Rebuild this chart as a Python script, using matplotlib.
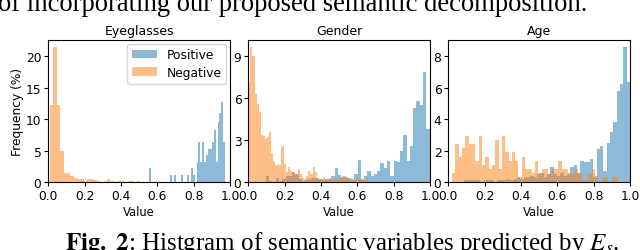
import numpy as np
import matplotlib
matplotlib.use("Agg")
import matplotlib.pyplot as plt

plt.rcParams["mathtext.fontset"] = "stix"

# histogram heights (%), one value per bin
# (bin start, bin width) for each series
eye_pos_bins = (0.553, 0.0105)
eye_pos = [2.2, 0, 0, 0, 0, 0, 0, 0, 0, 0, 0, 1.1, 0, 1.1, 0, 0, 0, 1.1, 0, 0,
           1.1, 0, 2.2, 1.1, 0, 3.2, 6.4, 3.2, 6.4, 3.2, 4.3, 5.3, 5.3, 6.4, 8.2, 3.2,
           9.5, 11.0, 12.7, 6.4]
eye_neg_bins = (0.01, 0.0184)
eye_neg = [12.3, 21.5, 12.2, 5.0, 1.4, 1.4, 1.0, 0.6, 0.4, 0.4, 0.2, 0.4, 0.4, 0.3,
           0.1, 0.0, 0.1, 0.4, 0.1, 0.0, 0.1, 0.1, 0.0, 0.1, 0.1, 0.0, 0.1]

gen_pos_bins = (0.097, 0.018)
gen_pos = [0.4, 0.1, 0.0, 0.3, 0.1, 0.2, 0.4, 0.4, 0.75, 0.55, 0.2, 0.1, 0.15, 0.2,
           0.25, 0.3, 0.2, 0.15, 0.2, 0.2, 0.45, 1.0, 0.5, 0.35, 0.35, 0.3, 0.2, 0.6,
           1.55, 0.2, 0.4, 0.8, 0.45, 0.6, 0.8, 1.35, 1.0, 1.5, 0.4, 1.5, 1.4, 2.2,
           3.4, 1.5, 2.6, 5.3, 5.8, 5.5, 7.9, 3.8]
gen_neg_bins = (0.0, 0.0114)
gen_neg = [7.1, 9.7, 9.0, 6.3, 5.6, 5.0, 3.4, 3.3, 3.1, 3.2, 3.6, 2.1, 1.5, 1.2, 1.2,
           1.2, 2.6, 1.3, 0.7, 1.05, 0.8, 0.7, 0.6, 0.6, 0.9, 0.6, 0.3, 0.2, 0.45, 0.8,
           0.6, 1.05, 0.7, 0.3, 0.15, 0.2, 0.3, 0.15, 0.2, 0.3, 0.15, 0.2, 0.3, 0.2,
           0.3, 0.45, 0.45, 0.3, 0.2, 0.1, 0.1, 0.15, 0.2, 0.3, 0.2, 0.15, 0.1, 0.3]

age_pos_bins = (0.085, 0.0183)
age_pos = [0.1, 0.1, 0.1, 0.1, 0.1, 0.0, 0.1, 0.1, 0.1, 0.0, 0.1, 0.1, 0.1, 0.2,
           0.1, 0.2, 0.3, 0.2, 0.3, 0.3, 0.4, 0.3, 0.5, 0.6, 0.3, 0.5, 0.95, 0.5,
           0.4, 0.55, 0.4, 0.5, 0.95, 1.05, 0.6, 1.35, 1.3, 1.3, 1.45, 0.3, 2.1, 2.3,
           0.7, 2.5, 3.2, 3.8, 5.8, 6.25, 8.6, 6.35]
age_neg_bins = (0.02, 0.0183)
age_neg = [0.55, 2.4, 1.6, 2.15, 2.9, 2.4, 2.4, 1.35, 2.9, 1.1, 1.6, 0.8, 1.1, 2.7,
           0.8, 2.9, 1.9, 1.35, 1.9, 1.35, 0.3, 1.6, 0.8, 0.8, 0.55, 1.35, 0.6, 0.8,
           0.8, 0.5, 0.8, 0.8, 1.35, 0.8, 0.8, 0.55, 0.55, 0.8, 0.55, 0.1, 0.1, 0.55,
           0.8, 0.4, 0.0, 0.3, 0.3, 0.0, 0.3, 0.3]

titles = ["Eyeglasses", "Gender", "Age"]
yticks = [[0, 5, 10, 15, 20], [0, 3, 6, 9], [0, 2, 4, 6, 8]]
xticks = [0.0, 0.2, 0.4, 0.6, 0.8, 1.0]
panels = [
    ((eye_pos_bins, eye_pos), (eye_neg_bins, eye_neg)),
    ((gen_pos_bins, gen_pos), (gen_neg_bins, gen_neg)),
    ((age_pos_bins, age_pos), (age_neg_bins, age_neg)),
]

FS = 8.8

fig = plt.figure(figsize=(6.4, 2.51), dpi=100)
lefts = [0.0755, 0.388, 0.7005]


def draw_hist(ax, bins, heights, color, label):
    start, width = bins
    edges = start + width * np.arange(len(heights) + 1)
    centers = (edges[:-1] + edges[1:]) / 2
    ax.hist(centers, bins=edges, weights=heights, color=color, alpha=0.5, label=label)


for i, (title, (pos, neg)) in enumerate(zip(titles, panels)):
    ax = fig.add_axes([lefts[i], 0.271, 0.284, 0.566])
    draw_hist(ax, pos[0], pos[1], "tab:blue", "Positive")
    draw_hist(ax, neg[0], neg[1], "tab:orange", "Negative")
    ax.set_xlim(0, 1)
    ax.set_xticks(xticks)
    ax.set_yticks(yticks[i])
    ax.tick_params(labelsize=FS, length=3, pad=2)
    ax.set_title(title, fontsize=FS + 0.2, pad=4)
    ax.set_xlabel("Value", fontsize=FS - 0.5, labelpad=2)
    if i == 0:
        ax.set_ylabel("Frequency (%)", fontsize=FS, labelpad=1)
        ax.legend(loc="upper right", fontsize=FS, handlelength=2.0,
                  borderaxespad=0.3, labelspacing=0.35)

# surrounding paper text (cropped in the reference)
fig.text(-0.003, 0.958, "of incorporating our proposed semantic decomposition.",
         family="Liberation Serif", fontsize=19.2, va="baseline", ha="left")
fig.text(0.102, 0.004, r"$\mathbf{Fig.\ 2}$: Histgram of semantic variables predicted by $E_s$.",
         family="Liberation Serif", fontsize=18.0, va="baseline", ha="left")

fig.savefig("out.png", dpi=100)
